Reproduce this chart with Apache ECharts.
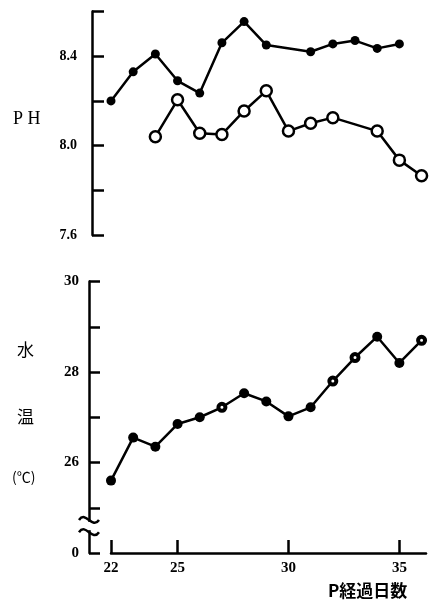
<!DOCTYPE html>
<html><head><meta charset="utf-8">
<script src="https://cdn.jsdelivr.net/npm/echarts@6/dist/echarts.min.js"></script>
<style>html,body{margin:0;padding:0;background:#fff}#c{width:436px;height:603px}</style>
</head><body><div id="c"></div>
<script>
// ---- data ----
const phFilledDays   = [22, 23, 24, 25, 26, 27, 28, 29, 31, 32, 33, 34, 35];
const phFilledValues = [8.20, 8.33, 8.41, 8.29, 8.235, 8.46, 8.555, 8.45, 8.42, 8.455, 8.47, 8.435, 8.455];
const phOpenDays     = [24, 25, 26, 27, 28, 29, 30, 31, 32, 34, 35, 36];
const phOpenValues   = [8.04, 8.205, 8.055, 8.05, 8.155, 8.245, 8.065, 8.10, 8.125, 8.065, 7.935, 7.865];
const tempDays       = [22, 23, 24, 25, 26, 27, 28, 29, 30, 31, 32, 33, 34, 35, 36];
const tempValues     = [25.6, 26.55, 26.35, 26.85, 27.0, 27.22, 27.53, 27.35, 27.02, 27.22, 27.8, 28.32, 28.78, 28.2, 28.7];
const phTickLabels   = ['8.4', '8.0', '7.6'];
const tempTickLabels = ['30', '28', '26'];
const xTickValues    = [22, 25, 30, 35];
const tempHollowDays = [27, 32, 33, 36];

const SERIF = '"Liberation Serif", "DejaVu Serif", serif';
const chart = echarts.init(document.getElementById('c'), null, {renderer: 'canvas'});
const pair = (d, v) => d.map((x, i) => [x, v[i]]);

const option = {
  backgroundColor: '#fff',
  animation: false,
  grid: [
    {left: 111, right: 10, top: 11.5, bottom: 368},
    {left: 111, right: 10, top: 281.5, bottom: 50}
  ],
  xAxis: [
    {gridIndex: 0, type: 'value', min: 22, max: 36.2, show: false},
    {gridIndex: 1, type: 'value', min: 22, max: 36.2, splitLine: {show: false},
     axisLine: {lineStyle: {color: '#000', width: 2.5}},
     axisTick: {inside: true, length: 13, customValues: xTickValues, lineStyle: {color: '#000', width: 2.5}},
     axisLabel: {customValues: xTickValues, color: '#000', fontFamily: SERIF, fontWeight: 'bold', fontSize: 15, margin: 8}}
  ],
  yAxis: [
    {gridIndex: 0, type: 'value', min: 7.6, max: 8.6, interval: 0.2, offset: 19, splitLine: {show: false},
     axisLine: {show: true, lineStyle: {color: '#000', width: 2.5}},
     axisTick: {inside: true, length: 12, lineStyle: {color: '#000', width: 2.5}},
     axisLabel: {margin: 15, color: '#000', fontFamily: SERIF, fontWeight: 'bold', fontSize: 14,
       formatter: v => { const s = v.toFixed(1); return phTickLabels.includes(s) ? s : ''; }}},
    {gridIndex: 1, type: 'value', min: 24, max: 30, interval: 1, offset: 22, splitLine: {show: false},
     axisLine: {show: true, lineStyle: {color: '#000', width: 2.5}},
     axisTick: {inside: true, length: 11, lineStyle: {color: '#000', width: 2.5}},
     axisLabel: {margin: 10, color: '#000', fontFamily: SERIF, fontWeight: 'bold', fontSize: 15,
       formatter: v => { if (v === 24) return '0'; const s = String(v); return tempTickLabels.includes(s) ? s : ''; }}}
  ],
  series: [
    {type: 'line', xAxisIndex: 0, yAxisIndex: 0, data: pair(phFilledDays, phFilledValues),
     symbol: 'circle', symbolSize: 9, lineStyle: {color: '#000', width: 2.5},
     itemStyle: {color: '#000', borderColor: '#000', borderWidth: 0}},
    {type: 'line', xAxisIndex: 0, yAxisIndex: 0, data: pair(phOpenDays, phOpenValues),
     symbol: 'circle', symbolSize: 11, showAllSymbol: true, lineStyle: {color: '#000', width: 2.5},
     itemStyle: {color: '#fff', borderColor: '#000', borderWidth: 2.5}},
    {type: 'line', xAxisIndex: 1, yAxisIndex: 1,
     data: pair(tempDays, tempValues).map(p => tempHollowDays.includes(p[0])
        ? {value: p, symbolSize: 7, itemStyle: {color: '#fff', borderColor: '#000', borderWidth: 4}} : {value: p}),
     symbol: 'circle', symbolSize: 10, lineStyle: {color: '#000', width: 2.5},
     itemStyle: {color: '#000', borderColor: '#000', borderWidth: 0}}
  ]
};
chart.setOption(option);

// labels and axis break marks (positioned from the axis scale)
const ax = chart.convertToPixel({gridIndex: 1}, [22, 24])[0] - 22;
const yA = chart.convertToPixel({gridIndex: 1}, [22, 24.73])[1];
const yB = chart.convertToPixel({gridIndex: 1}, [22, 24.46])[1];
const wave = (id, y) => ({id: id, type: 'bezierCurve', z: 100,
  shape: {x1: ax - 10, y1: y, x2: ax + 10, y2: y, cpx1: ax - 3, cpy1: y - 10, cpx2: ax + 3, cpy2: y + 10},
  style: {stroke: '#000', lineWidth: 2.5, fill: null}});
chart.setOption({graphic: [
  {id: 'ph', type: 'text', left: 13, top: 110, style: {text: 'P H', fill: '#000', font: '18px ' + SERIF}},
  {id: 'mizu', type: 'text', left: 17, top: 341, style: {text: '水', fill: '#000', font: '17px "Noto Sans CJK JP"'}},
  {id: 'on', type: 'text', left: 17, top: 408, style: {text: '温', fill: '#000', font: '17px "Noto Sans CJK JP"'}},
  {id: 'unit', type: 'text', left: 12, top: 470, style: {text: '(℃)', fill: '#000', font: '14px "Noto Sans CJK JP"'}},
  {id: 'xname', type: 'text', left: 328, top: 582, style: {text: 'P経過日数', fill: '#000', font: 'bold 17px "Noto Sans CJK JP"'}},
  {id: 'gap', type: 'rect', z: 99, shape: {x: ax - 3, y: yA + 2, width: 6, height: yB - yA - 4}, style: {fill: '#fff'}},
  wave('w1', yA), wave('w2', yB)
]});
</script></body></html>
